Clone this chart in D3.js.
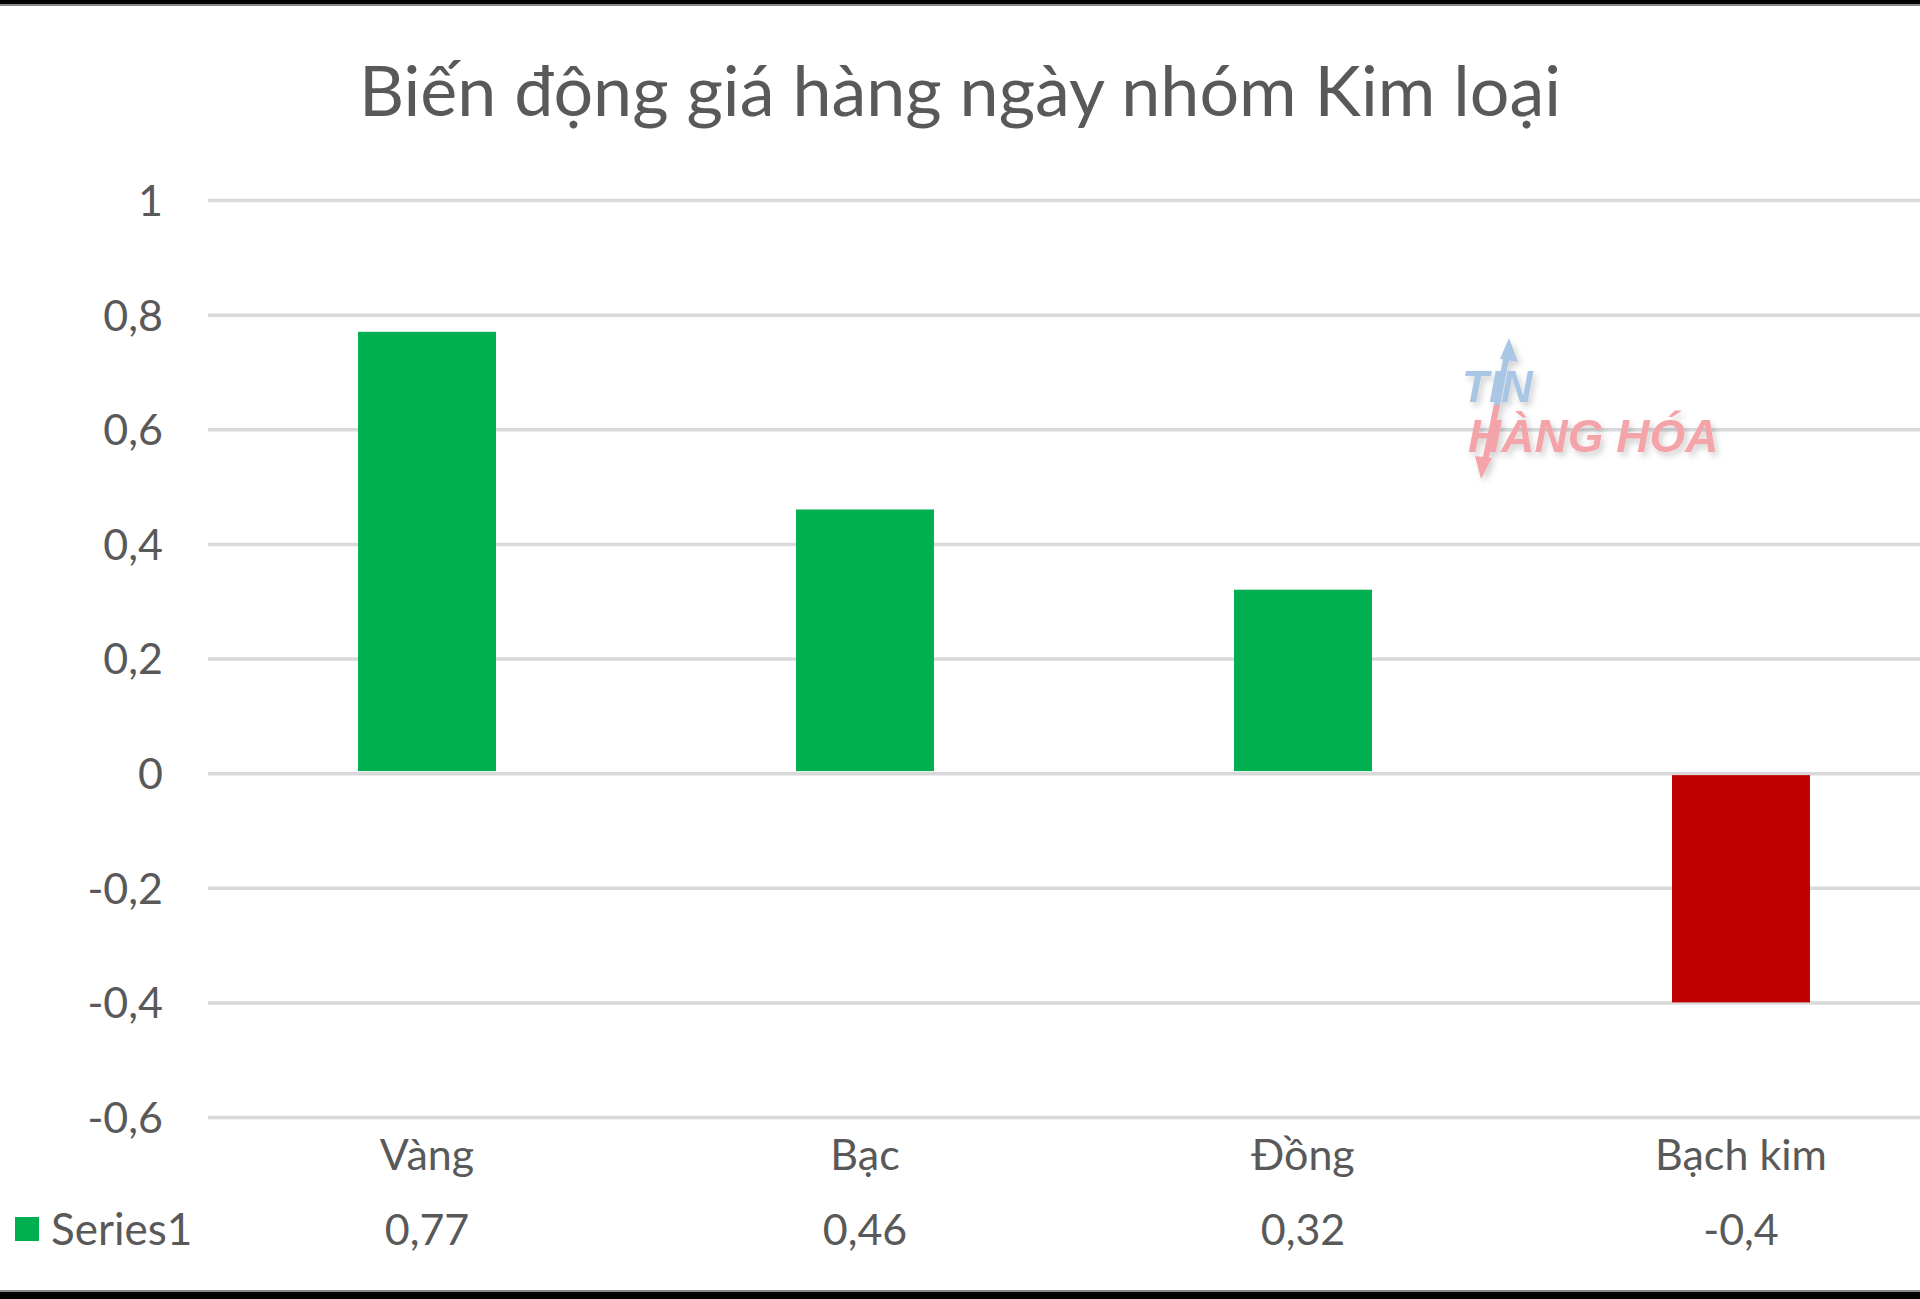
<!DOCTYPE html>
<html>
<head>
<meta charset="utf-8">
<script src="https://cdn.jsdelivr.net/npm/d3@7"></script>
<style>
  html, body { margin: 0; padding: 0; background: #ffffff; }
  svg { display: block; }
</style>
</head>
<body>
<svg id="chart" width="1920" height="1299"></svg>
<script>
// ---- data ----
const titleText = "Biến động giá hàng ngày nhóm Kim loại";
const categories = ["Vàng", "Bạc", "Đồng", "Bạch kim"];
const seriesName = "Series1";
const values = [0.77, 0.46, 0.32, -0.4];
const yTicks = [-0.6, -0.4, -0.2, 0, 0.2, 0.4, 0.6, 0.8, 1];

// ---- setup ----
const W = 1920, H = 1299;
const svg = d3.select("#chart");
const font = "Lato, 'Open Sans', sans-serif";
const textColor = "#595959";
const gridColor = "#d9d9d9";
const posColor = "#00B050";
const negColor = "#C00000";
const labelSize = 43;

const loc = d3.formatLocale({decimal: ",", thousands: ".", grouping: [3], currency: ["", ""], minus: "-"});
const fmt = v => loc.format("~g")(v);

const plot = {left: 208, right: 1960, top: 200, bottom: 1117};

const x = d3.scaleBand().domain(categories).range([plot.left, plot.right])
  .paddingInner(0.685).paddingOuter(0.3425);
const y = d3.scaleLinear().domain([-0.6, 1]).range([plot.bottom, plot.top]);

svg.append("rect").attr("width", W).attr("height", H).attr("fill", "#ffffff");

// gridlines
const grid = svg.append("g").attr("transform", `translate(${plot.left},0)`)
  .call(d3.axisLeft(y).tickValues(yTicks).tickSize(-(plot.right - plot.left)).tickFormat(""));
grid.select(".domain").remove();
grid.selectAll(".tick line").attr("stroke", gridColor).attr("stroke-width", 3.5);

// y axis labels
const yAxis = svg.append("g").attr("transform", `translate(163,0)`)
  .call(d3.axisLeft(y).tickValues(yTicks).tickSize(0).tickPadding(0).tickFormat(fmt));
yAxis.select(".domain").remove();
yAxis.selectAll("text").attr("font-family", font).attr("font-size", labelSize)
  .attr("fill", textColor).attr("dy", "0.36em");

// watermark
const defs = svg.append("defs");
const f = defs.append("filter").attr("id", "sh").attr("x", "-20%").attr("y", "-20%").attr("width", "140%").attr("height", "140%");
f.append("feDropShadow").attr("dx", 3).attr("dy", 4).attr("stdDeviation", 3)
  .attr("flood-color", "#000").attr("flood-opacity", 0.18);
const wm = svg.append("g").attr("filter", "url(#sh)");
wm.append("line").attr("x1", 1494).attr("y1", 420).attr("x2", 1508).attr("y2", 350)
  .attr("stroke", "#a9c6e4").attr("stroke-width", 6);
wm.append("path").attr("d", "M1509,338 L1518,362 L1500,359 Z").attr("fill", "#a9c6e4");
wm.append("line").attr("x1", 1497).attr("y1", 405).attr("x2", 1484).attr("y2", 466)
  .attr("stroke", "#f4a4a8").attr("stroke-width", 6);
wm.append("path").attr("d", "M1481,479 L1475,456 L1492,458 Z").attr("fill", "#f4a4a8");
wm.append("text").attr("x", 1462).attr("y", 402).text("TIN")
  .attr("font-family", "'Liberation Sans', Arial, sans-serif").attr("font-weight", "bold")
  .attr("font-style", "italic").attr("font-size", 44).attr("fill", "#a9c6e4");
wm.append("text").attr("x", 1468).attr("y", 452).text("HÀNG HÓA")
  .attr("font-family", "'Liberation Sans', Arial, sans-serif").attr("font-weight", "bold")
  .attr("font-style", "italic").attr("font-size", 46).attr("fill", "#f4a4a8");

// bars
svg.append("g").selectAll("rect").data(values).join("rect")
  .attr("x", (d, i) => x(categories[i]))
  .attr("width", x.bandwidth())
  .attr("y", d => d >= 0 ? y(d) : y(0) + 2)
  .attr("height", d => Math.abs(y(d) - y(0)) - 2)
  .attr("fill", d => d >= 0 ? posColor : negColor);

// category labels
svg.append("g").selectAll("text").data(categories).join("text")
  .attr("x", d => x(d) + x.bandwidth() / 2).attr("y", 1170)
  .attr("text-anchor", "middle").attr("font-family", font).attr("font-size", labelSize)
  .attr("fill", textColor).text(d => d);

// data table row
svg.append("rect").attr("x", 15).attr("y", 1217).attr("width", 24).attr("height", 24).attr("fill", posColor);
svg.append("text").attr("x", 51).attr("y", 1245).attr("font-family", font).attr("font-size", 44)
  .attr("fill", textColor).text(seriesName);
svg.append("g").selectAll("text").data(values).join("text")
  .attr("x", (d, i) => x(categories[i]) + x.bandwidth() / 2).attr("y", 1245)
  .attr("text-anchor", "middle").attr("font-family", font).attr("font-size", labelSize)
  .attr("fill", textColor).text(d => fmt(d));

// title
svg.append("text").attr("x", 960).attr("y", 116).attr("text-anchor", "middle")
  .attr("font-family", font).attr("font-size", 70).attr("fill", textColor).text(titleText);

// borders
svg.append("rect").attr("x", 0).attr("y", 0).attr("width", W).attr("height", 4).attr("fill", "#000");
svg.append("rect").attr("x", 0).attr("y", 4).attr("width", W).attr("height", 2).attr("fill", "#888");
svg.append("rect").attr("x", 0).attr("y", 1292).attr("width", W).attr("height", 7).attr("fill", "#000");
svg.append("rect").attr("x", 0).attr("y", 1290).attr("width", W).attr("height", 2).attr("fill", "#888");
</script>
</body>
</html>
